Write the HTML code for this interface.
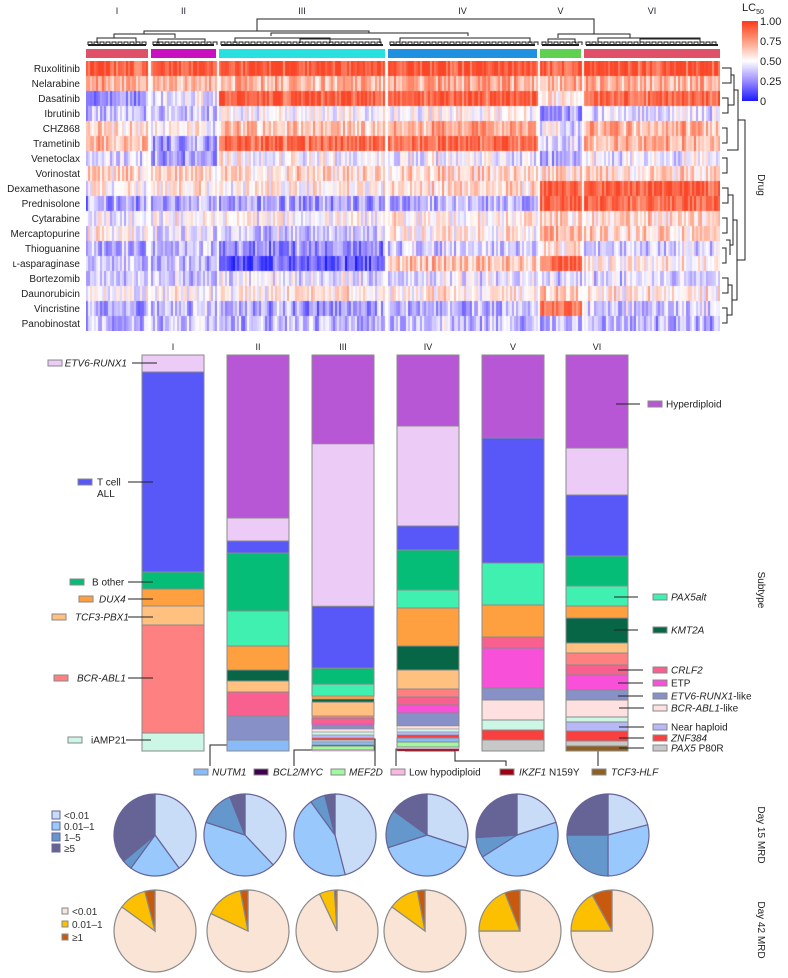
<!DOCTYPE html>
<html><head><meta charset="utf-8">
<style>
body{margin:0;background:#fff;}
#root{position:relative;width:788px;height:978px;overflow:hidden;font-family:"Liberation Sans",sans-serif;}
svg text{font-family:"Liberation Sans",sans-serif;}
</style></head>
<body>
<div id="root">
<canvas id="hm" width="634" height="270" style="position:absolute;left:86px;top:61px;"></canvas>
<svg id="svg" width="788" height="978" style="position:absolute;left:0;top:0;">
<defs><linearGradient id="cg" x1="0" y1="1" x2="0" y2="0">
<stop offset="0" stop-color="#1a1aff"/><stop offset="0.25" stop-color="#9c8cff"/><stop offset="0.5" stop-color="#ffffff"/><stop offset="0.75" stop-color="#ff9c80"/><stop offset="1" stop-color="#ff3a1a"/></linearGradient></defs>
<g id="top"></g>
<g id="bars"></g>
<g id="pies"></g>
</svg>
</div>
<script>
// ---------- data ----------
const clusterNames = ["I","II","III","IV","V","VI"];
const drugs = ["Ruxolitinib","Nelarabine","Dasatinib","Ibrutinib","CHZ868","Trametinib","Venetoclax","Vorinostat","Dexamethasone","Prednisolone","Cytarabine","Mercaptopurine","Thioguanine","\u029f-asparaginase","Bortezomib","Daunorubicin","Vincristine","Panobinostat"];
const drugMeanLC50 = [
[.85,.85,.88,.88,.85,.87],[.70,.70,.70,.72,.70,.70],[.25,.45,.85,.85,.55,.82],[.35,.35,.50,.50,.30,.45],
[.60,.50,.65,.72,.45,.70],[.70,.30,.80,.80,.40,.70],[.40,.30,.50,.45,.30,.45],[.60,.60,.60,.60,.60,.60],
[.50,.55,.55,.60,.85,.85],[.30,.30,.30,.35,.85,.82],[.45,.50,.50,.55,.60,.60],[.50,.45,.40,.55,.70,.60],
[.30,.35,.25,.40,.55,.40],[.35,.35,.15,.65,.80,.55],[.40,.40,.45,.45,.40,.40],[.50,.50,.55,.55,.65,.55],
[.30,.35,.30,.35,.80,.40],[.35,.35,.35,.38,.35,.35]];
const colorTicks = ["1.00","0.75","0.50","0.25","0"];
const subtypes = ["Hyperdiploid","ETV6-RUNX1","T cell ALL","B other","PAX5alt","DUX4","KMT2A","TCF3-PBX1","BCR-ABL1","CRLF2","ETP","ETV6-RUNX1-like","BCR-ABL1-like","iAMP21","Near haploid","ZNF384","PAX5 P80R","NUTM1","BCL2/MYC","MEF2D","Low hypodiploid","IKZF1 N159Y","TCF3-HLF"];
const subtypeColors = ["#b857d6","#ecccf6","#5858f8","#06bd78","#40f0b0","#ffa040","#066645","#ffc080","#ff8080","#f86090","#f850d8","#8890c8","#ffe0e0","#ccf6e6","#b8b8f8","#f84040","#c8c8c8","#88bbf8","#400050","#a0f8a0","#f8b8e0","#a00010","#906020"];
const clusterI   = [0,17,200,17,0,17,0,19,108,0,0,0,0,18,0,0,0,0,0,0,0,0,0];
const clusterII  = [163,23,12,58,35,24,11,11,0,24,0,24,0,0,0,0,0,11,0,0,0,0,0];
const clusterIII = [89,163,62,16,12,3,3,14,2,6,2,3,3,3,3,2,2,3,1,4,1,0,0];
const clusterIV  = [71,100,24,40,18,38,24,19,8,8,8,13,3,3,3,3,0,4,0,5,2,2,0];
const clusterV   = [83,0,125,0,42,32,0,0,0,11,40,12,20,10,0,10,11,0,0,0,0,0,0];
const clusterVI  = [93,47,61,30,20,12,25,10,12,10,15,10,17,5,9,10,5,0,0,0,0,0,5];
const day15Cats = ["<0.01","0.01\u20131","1\u20135","\u22655"];
const day15I=[.40,.20,.04,.36], day15II=[.38,.42,.14,.06], day15III=[.46,.44,.06,.04], day15IV=[.30,.40,.15,.15], day15V=[.20,.46,.08,.26], day15VI=[.21,.29,.25,.25];
const day42Cats = ["<0.01","0.01\u20131","\u22651"];
const day42I=[.85,.11,.04], day42II=[.82,.15,.03], day42III=[.93,.06,.01], day42IV=[.85,.12,.03], day42V=[.75,.19,.06], day42VI=[.75,.17,.08];

// ---------- helpers ----------
const NS="http://www.w3.org/2000/svg";
function mk(parent,tag,attrs,txt){const e=document.createElementNS(NS,tag);for(const k in attrs)e.setAttribute(k,attrs[k]);if(txt!==undefined)e.textContent=txt;parent.appendChild(e);return e;}
const topG=document.getElementById('top'), barsG=document.getElementById('bars'), piesG=document.getElementById('pies');

// ---------- heatmap ----------
const clX=[[86,148],[151,216],[219,385],[388,537],[540,581],[584,720]];
const clColors=["#e05068","#c810c0","#28e0e0","#2090e0","#60d050","#e05068"];
const stops=[[0,[26,26,255]],[.25,[156,140,255]],[.5,[255,255,255]],[.75,[255,156,128]],[1,[250,70,40]]];
function cmap(v){v=Math.max(0,Math.min(1,v));for(let i=0;i<4;i++){const a=stops[i],b=stops[i+1];if(v<=b[0]){const t=(v-a[0])/(b[0]-a[0]);return 'rgb('+a[1].map((x,j)=>Math.round(x+(b[1][j]-x)*t)).join(',')+')';}}return 'rgb(250,70,40)';}
function hsh(a,b){let h=(a*374761393+b*668265263)>>>0;h=((h^(h>>>13))*1274126177)>>>0;return ((h^(h>>>16))>>>0)/4294967296;}
const ctx=document.getElementById('hm').getContext('2d');
ctx.fillStyle='#fff';ctx.fillRect(0,0,634,270);
const rowH=15;
clX.forEach((r,ci)=>{
  for(let x=r[0];x<r[1];x+=2){
    const colEff=hsh(x,999)-0.5;
    drugs.forEach((d,ri)=>{
      const m=drugMeanLC50[ri][ci];
      const v=m+0.3*(hsh(x,ri)-0.5)+0.12*colEff+(m>0.75?0.08:0);
      ctx.fillStyle=cmap(v);ctx.fillRect(x-86,ri*rowH,2,rowH);
    });
  }
});
drugs.forEach((d,ri)=>{const t=mk(topG,'text',{x:80,y:61+ri*rowH+11,'font-size':10,'text-anchor':'end',fill:'#222'},d);

});
clX.forEach((r,ci)=>{
  const b=mk(topG,'rect',{x:r[0],y:49,width:r[1]-r[0],height:9,fill:clColors[ci]});
  
  
  const t=mk(topG,'text',{x:(r[0]+r[1])/2,y:14,'font-size':9,'text-anchor':'middle',fill:'#223'},clusterNames[ci]);
  
  
});
const dl=(pts)=>{const p=mk(topG,'polyline',{points:pts,fill:'none',stroke:'#222','stroke-width':1});};
dl("257,31 257,19 594,19 594,34");
dl("144,34 144,31 369,31 369,33");
dl("114,38 114,34 175,34 175,38");
dl("271,36 271,33 468,33 468,36");
dl("558,38 558,34 630,34 630,38");
const sub=[[97,136],[158,205],[235,330],[300,380],[400,530],[548,575],[598,700],[640,700]];
sub.forEach((s,i)=>dl(s[0]+","+(43)+" "+s[0]+","+(38+ (i%2))+" "+s[1]+","+(38+(i%2))+" "+s[1]+",43"));
clX.forEach(r=>{for(let x=r[0]+2;x<r[1]-2;x+=6){dl(x+",45 "+x+",42 "+(x+4)+",42 "+(x+4)+",45");}
 const f=mk(topG,'rect',{x:r[0]+2,y:44,width:r[1]-r[0]-4,height:2,fill:'#222'});});
dl("722,68 731,68 731,83 722,83");dl("722,98 728,98 728,113 722,113");dl("731,75 734,75 734,105 728,105");
dl("722,128 727,128 727,143 722,143");dl("722,158 727,158 727,173 722,173");dl("734,90 738,90 738,150 727,150");
dl("722,188 728,188 728,203 722,203");dl("722,218 727,218 727,233 722,233");dl("722,248 726,248 726,263 722,263");dl("726,240 730,240 730,255");
dl("728,195 733,195 733,245 730,245");dl("722,278 728,278 728,293 722,293");dl("722,308 727,308 727,323 722,323");dl("728,285 732,285 732,315 727,315");
dl("733,220 737,220 737,300 732,300");dl("738,120 745,120 745,260 737,260");
const cb=mk(topG,'rect',{x:742,y:21,width:16,height:80,fill:'url(#cg)'});
colorTicks.forEach((t,i)=>{const e=mk(topG,'text',{x:760,y:25+i*20,'font-size':11,fill:'#222'},t);});
const lc=mk(topG,'text',{x:742,y:11,'font-size':11,fill:'#222'},'LC');mk(lc,'tspan',{'font-size':7,dy:3},'50');

function vlabel(txt,x,y,name){const e=mk(topG,'text',{x:x,y:y,'font-size':10,'text-anchor':'middle',fill:'#222',transform:'rotate(90 '+x+' '+y+')'},txt);}
vlabel('Drug',758,185,'drug-axis-title');vlabel('Subtype',758,590,'subtype-axis-title');vlabel('Day 15 MRD',758,835,'day15-title');vlabel('Day 42 MRD',758,930,'day42-title');

// ---------- stacked bars ----------
const barX=[142,227,312,397,482,566], barW=62, barTop=355, barH=396;
[clusterI,clusterII,clusterIII,clusterIV,clusterV,clusterVI].forEach((vals,ci)=>{
  const tot=vals.reduce((a,b)=>a+b,0);let y=barTop;
  const t=mk(barsG,'text',{x:barX[ci]+barW/2,y:350,'font-size':9,'text-anchor':'middle',fill:'#222'},clusterNames[ci]);
  
  vals.forEach((v,si)=>{if(!v)return;const h=v/tot*barH;
    const r=mk(barsG,'rect',{x:barX[ci],y:y,width:barW,height:h,fill:subtypeColors[si],stroke:'#8a8a8a','stroke-width':h>3?1:0.5});
    y+=h;});
});
function legend(name,si,sx,ty,tx,italic,l1,l2,anchor,suffix){
  const g=mk(barsG,'g',{});
  mk(g,'rect',{x:sx,y:ty-3,width:14,height:6,fill:subtypeColors[si],stroke:'#888','stroke-width':1});
  const t=mk(g,'text',{x:tx,y:ty+3.5,'font-size':10,fill:'#222','text-anchor':anchor||'start'});
  mk(t,'tspan',{'font-style':italic?'italic':'normal'},name);
  if(suffix)mk(t,'tspan',{},suffix);
  if(l1)mk(g,'line',{x1:l1,y1:ty,x2:l2,y2:ty,stroke:'#222','stroke-width':1});
}
legend('ETV6-RUNX1',1,48,363,127,true,132,157,'end');
legend('T cell',2,78,482,97,false,128,153);
const al=mk(barsG,'text',{x:97,y:497,'font-size':10,fill:'#222'},'ALL');
legend('B other',3,70,582,92,false,128,153);
legend('DUX4',5,79,599,99,true,128,153);
legend('TCF3-PBX1',7,52,617,75,true,128,153);
legend('BCR-ABL1',8,54,678,77,true,128,153);
legend('iAMP21',13,68,740,91,false,126,151);
legend('Hyperdiploid',0,648,404,666,false,616,640);
legend('PAX5alt',4,653,597,671,true,614,638);
legend('KMT2A',6,653,630,671,true,614,638);
legend('CRLF2',9,653,670,671,true,618,643);
legend('ETP',10,653,683,671,false,618,643);
legend('ETV6-RUNX1',11,653,696,671,true,618,643,'start','-like');
legend('BCR-ABL1',12,653,708,671,true,619,644,'start','-like');
legend('Near haploid',14,653,727,671,false,619,644);
legend('ZNF384',15,653,738,671,true,619,644);
legend('PAX5',16,653,748,671,true,619,644,'start',' P80R');
legend('NUTM1',17,194,772,212,true);
legend('BCL2/MYC',18,254,772,273,true);
legend('MEF2D',19,331,772,349,true);
legend('Low hypodiploid',20,391,772,409,false);
legend('IKZF1',21,500,772,519,true,null,null,'start',' N159Y');
legend('TCF3-HLF',22,592,772,611,true);
dl("233,745 210,745 210,766");dl("318,750 294,750 294,766");dl("363,739 375,739 375,766");
dl("405,749 396,749 396,766");dl("405,751 455,751 455,761 506,761 506,766");dl("598,751 598,766");

// ---------- pies ----------
const c15=["#c8dcf8","#98c8fc","#6498cc","#666496"], c42=["#fae4d6","#fcc000","#c85a10"];
function pie(vals,cx,cy,r,cols,stroke){
  let a=-Math.PI/2;
  vals.forEach((v,i)=>{const b=a+v*2*Math.PI;const large=(b-a)>Math.PI?1:0;
    const d="M"+cx+","+cy+" L"+(cx+r*Math.cos(a))+","+(cy+r*Math.sin(a))+" A"+r+","+r+" 0 "+large+" 1 "+(cx+r*Math.cos(b))+","+(cy+r*Math.sin(b))+" Z";
    const p=mk(piesG,'path',{d:d,fill:cols[i],stroke:stroke,'stroke-width':1.2});
    a=b;});
}
const px15=[155,245,335,427,517,608], px42=[155,248,337,425,520,612];
[day15I,day15II,day15III,day15IV,day15V,day15VI].forEach((v,i)=>pie(v,px15[i],835,41,c15,'#666496'));
[day42I,day42II,day42III,day42IV,day42V,day42VI].forEach((v,i)=>pie(v,px42[i],931,41,c42,'#8a8a8a'));
day15Cats.forEach((c,i)=>{const g=mk(piesG,'g',{});
 mk(g,'rect',{x:52,y:811+i*11,width:8,height:8,fill:c15[i],stroke:'#666496'});mk(g,'text',{x:64,y:819+i*11,'font-size':10,fill:'#333'},c);});
day42Cats.forEach((c,i)=>{const g=mk(piesG,'g',{});
 mk(g,'rect',{x:62,y:908+i*13,width:6,height:6,fill:c42[i],stroke:'#888'});mk(g,'text',{x:72,y:915+i*13,'font-size':10,fill:'#333'},c);});
</script>
</body></html>
